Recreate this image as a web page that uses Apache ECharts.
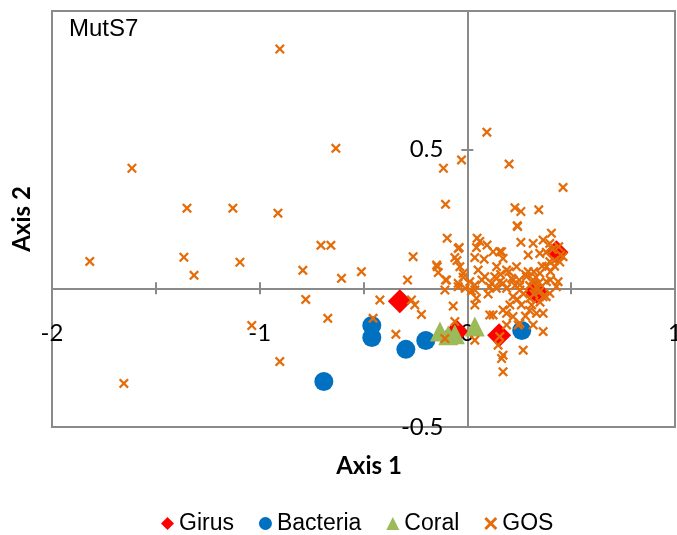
<!DOCTYPE html>
<html>
<head>
<meta charset="utf-8">
<script src="https://cdn.jsdelivr.net/npm/echarts@6/dist/echarts.min.js"></script>
<style>
html,body{margin:0;padding:0;background:#fff;}
#chart{width:677px;height:535px;}
</style>
</head>
<body>
<div id="chart"></div>
<script>
// ---- data ----
const seriesNames = ['Girus', 'Bacteria', 'Coral', 'GOS'];
const xTickLabels = ['-2', '-1', '0', '1'];
const yTickLabels = ['0.5', '-0.5'];

const girus = [
  [-0.325, -0.047], [0.153, -0.169], [-0.052, -0.156], [0.429, 0.130], [0.333, -0.012]
];
const bacteria = [
  [-0.691, -0.336], [-0.460, -0.134], [-0.460, -0.177], [-0.296, -0.220], [-0.200, -0.188], [0.262, -0.152]
];
const coral = [
  [-0.132, -0.156], [-0.092, -0.169], [-0.060, -0.166], [0.036, -0.138]
];
const gos = [
  [-0.903, 0.863], [-1.615, 0.433], [-1.818, 0.097], [-1.350, 0.289], [-1.129, 0.289],
  [-0.912, 0.271], [-0.633, 0.505], [-1.365, 0.112], [-1.316, 0.047], [-1.095, 0.094],
  [-0.792, 0.065], [-0.705, 0.155], [-0.657, 0.155], [-0.606, 0.036], [-0.510, 0.060],
  [-1.654, -0.343], [-1.038, -0.134], [-0.903, -0.264], [-0.778, -0.040], [-0.672, -0.108],
  [0.094, 0.563], [-0.028, 0.463], [-0.115, 0.433], [0.201, 0.448], [0.461, 0.364],
  [-0.105, 0.303], [0.229, 0.291], [0.258, 0.277], [0.344, 0.283], [0.240, 0.226],
  [-0.097, 0.181], [0.258, 0.166], [-0.261, 0.114], [-0.288, 0.030], [-0.421, -0.042],
  [-0.269, -0.042], [-0.253, -0.060], [-0.221, -0.094], [-0.454, -0.108], [-0.344, -0.166],
  [0.047, 0.181], [0.060, 0.169], [0.095, 0.156], [-0.039, 0.147], [0.044, 0.147],
  [-0.060, 0.111], [0.036, 0.111], [0.081, 0.105], [0.156, 0.132], [-0.036, 0.078],
  [-0.145, 0.078], [-0.140, 0.057], [-0.020, 0.054], [0.052, 0.066], [0.084, 0.042],
  [0.132, 0.042], [0.141, 0.078], [-0.100, 0.030], [-0.044, 0.018], [0.012, 0.024],
  [0.036, 0.012], [0.117, 0.018], [0.156, 0.024],
  [0.242, 0.223], [0.405, 0.199], [0.317, 0.162], [0.365, 0.174], [0.293, 0.120],
  [0.349, 0.126], [0.397, 0.162], [0.461, 0.114], [0.172, 0.108], [0.397, 0.096],
  [0.381, 0.078], [0.237, 0.078], [0.189, 0.066], [0.349, 0.054], [0.285, 0.042],
  [0.317, 0.030], [0.220, 0.030], [0.437, 0.024], [0.381, 0.024], [0.253, 0.012],
  [0.172, 0.018],
  [-0.108, -0.006], [-0.044, 0.006], [0.036, -0.006], [0.044, -0.036], [0.036, -0.060],
  [-0.068, -0.064], [0.108, -0.096], [0.124, -0.096], [0.172, -0.078], [-0.060, -0.120],
  [0.036, -0.187], [-0.108, -0.181], [0.156, -0.174], [0.165, -0.253], [0.172, -0.301],
  [0.148, -0.205], [0.108, 0.006],
  [0.189, 0.000], [0.253, -0.006], [0.333, 0.006], [0.429, 0.006], [0.397, -0.018],
  [0.301, -0.036], [0.365, -0.030], [0.205, -0.060], [0.189, -0.090], [0.220, -0.102],
  [0.333, -0.090], [0.365, -0.090], [0.253, -0.126], [0.317, -0.132], [0.365, -0.156],
  [0.269, -0.223], [0.172, -0.241], [0.189, -0.132], [0.245, -0.132],
  [-0.148, 0.084], [-0.105, 0.030], [-0.044, 0.144], [0.124, 0.132], [0.165, 0.132],
  [0.293, 0.060], [0.213, 0.036],
  [0.250, 0.030], [0.270, -0.020], [0.300, 0.010], [0.280, 0.050], [0.240, -0.040],
  [0.310, -0.060], [0.350, -0.050], [0.380, -0.030], [0.330, 0.040], [0.360, 0.080],
  [0.400, 0.060], [0.420, 0.100], [0.380, 0.130], [0.220, -0.030], [0.200, 0.060],
  [0.160, 0.050], [0.140, 0.000], [0.100, -0.020], [0.070, 0.030], [0.020, -0.010],
  [-0.020, 0.040], [-0.050, 0.100], [-0.010, 0.000],
  [0.410, 0.140], [0.440, 0.150], [0.450, 0.120], [0.420, 0.080], [0.445, 0.095],
  [0.340, 0.000], [0.320, -0.020], [0.350, -0.010], [0.345, 0.020], [0.320, 0.060],
  [0.400, 0.030], [0.300, -0.080], [0.280, -0.100], [0.260, -0.060], [0.230, 0.010]
];

// ---- layout ----
const W = 677, H = 535;
const G = {left: 52, right: 2, top: 11, bottom: 108};
const X_MIN = -2, X_MAX = 1, Y_MIN = -0.5, Y_MAX = 1;
const gw = W - G.left - G.right, gh = H - G.top - G.bottom;
// axes cross at zero: shift edge-positioned axes inward to the zero lines
const xAxisOffset = -(gh * (0 - Y_MIN) / (Y_MAX - Y_MIN));
const yAxisOffset = -(gw * (0 - X_MIN) / (X_MAX - X_MIN));

const GRAY = '#8a8a8a';
const xSymbol = 'path://M1.6,0 L5,3.4 L8.4,0 L10,1.6 L6.6,5 L10,8.4 L8.4,10 L5,6.6 L1.6,10 L0,8.4 L3.4,5 L0,1.6 Z';
const tickFont = 'Lato, "Open Sans", sans-serif';
const arial = '"Liberation Sans", Arial, sans-serif';

function xLabel(v) {
  const s = String(Math.round(v * 10) / 10);
  return xTickLabels.indexOf(s) >= 0 ? s : '';
}
function yLabel(v) {
  const s = String(Math.round(v * 10) / 10);
  return yTickLabels.indexOf(s) >= 0 ? s : '';
}

const tickStyle = {color: GRAY, width: 2};
const chart = echarts.init(document.getElementById('chart'), null, {renderer: 'canvas'});
const option = {
  animation: false,
  backgroundColor: '#fff',
  grid: {
    left: G.left, right: G.right, top: G.top, bottom: G.bottom,
    outerBoundsMode: 'none', containLabel: false,
    show: true, borderColor: GRAY, borderWidth: 2, backgroundColor: 'transparent'
  },
  xAxis: [
    {
      type: 'value', min: X_MIN, max: X_MAX, interval: 0.5, position: 'bottom', offset: xAxisOffset,
      axisLine: {show: true, onZero: false, lineStyle: tickStyle},
      axisTick: {show: true, inside: false, length: 6, lineStyle: tickStyle},
      splitLine: {show: false},
      axisLabel: {show: true, margin: 33, color: '#000', fontSize: 24, fontFamily: tickFont, formatter: xLabel, hideOverlap: false}
    },
    {
      type: 'value', min: X_MIN, max: X_MAX, interval: 0.5, position: 'bottom', offset: xAxisOffset,
      axisLine: {show: false, onZero: false},
      axisTick: {show: true, inside: true, length: 6, lineStyle: tickStyle},
      splitLine: {show: false},
      axisLabel: {show: false}
    }
  ],
  yAxis: [
    {
      type: 'value', min: Y_MIN, max: Y_MAX, interval: 0.5, position: 'left', offset: yAxisOffset,
      axisLine: {show: true, onZero: false, lineStyle: tickStyle},
      axisTick: {show: true, inside: false, length: 6, lineStyle: tickStyle},
      splitLine: {show: false},
      axisLabel: {show: true, margin: 24, color: '#000', fontSize: 24, fontFamily: tickFont, formatter: yLabel, hideOverlap: false}
    },
    {
      type: 'value', min: Y_MIN, max: Y_MAX, interval: 0.5, position: 'left', offset: yAxisOffset,
      axisLine: {show: false, onZero: false},
      axisTick: {show: true, inside: true, length: 6, lineStyle: tickStyle},
      splitLine: {show: false},
      axisLabel: {show: false}
    }
  ],
  legend: {
    top: 507, left: 156,
    itemWidth: 13, itemHeight: 13, itemGap: 25,
    textStyle: {fontSize: 23, color: '#000', fontFamily: arial},
    data: seriesNames.map(n => ({name: n}))
  },
  graphic: [
    {type: 'text', left: 69, top: 17, style: {text: 'MutS7', fontSize: 24, fill: '#000', fontFamily: arial}},
    {type: 'text', x: 369, y: 466, style: {text: 'Axis 1', fontSize: 24, fontWeight: 'bold', fill: '#000', fontFamily: tickFont, align: 'center', verticalAlign: 'middle'}},
    {type: 'text', x: 22, y: 219, rotation: Math.PI / 2, style: {text: 'Axis 2', fontSize: 24, fontWeight: 'bold', fill: '#000', fontFamily: tickFont, align: 'center', verticalAlign: 'middle'}}
  ],
  series: [
    {name: 'Girus', type: 'scatter', data: girus, symbol: 'diamond', symbolSize: 24,
     itemStyle: {color: '#FF0000', opacity: 1}},
    {name: 'Bacteria', type: 'scatter', data: bacteria, symbol: 'circle', symbolSize: 19,
     itemStyle: {color: '#0070C0', opacity: 1}},
    {name: 'Coral', type: 'scatter', data: coral, symbol: 'triangle', symbolSize: 20,
     itemStyle: {color: '#9BBB59', opacity: 1}},
    {name: 'GOS', type: 'scatter', data: gos, symbol: xSymbol, symbolSize: 10,
     itemStyle: {color: '#E46C0A', opacity: 1}}
  ]
};
chart.setOption(option);
</script>
</body>
</html>
